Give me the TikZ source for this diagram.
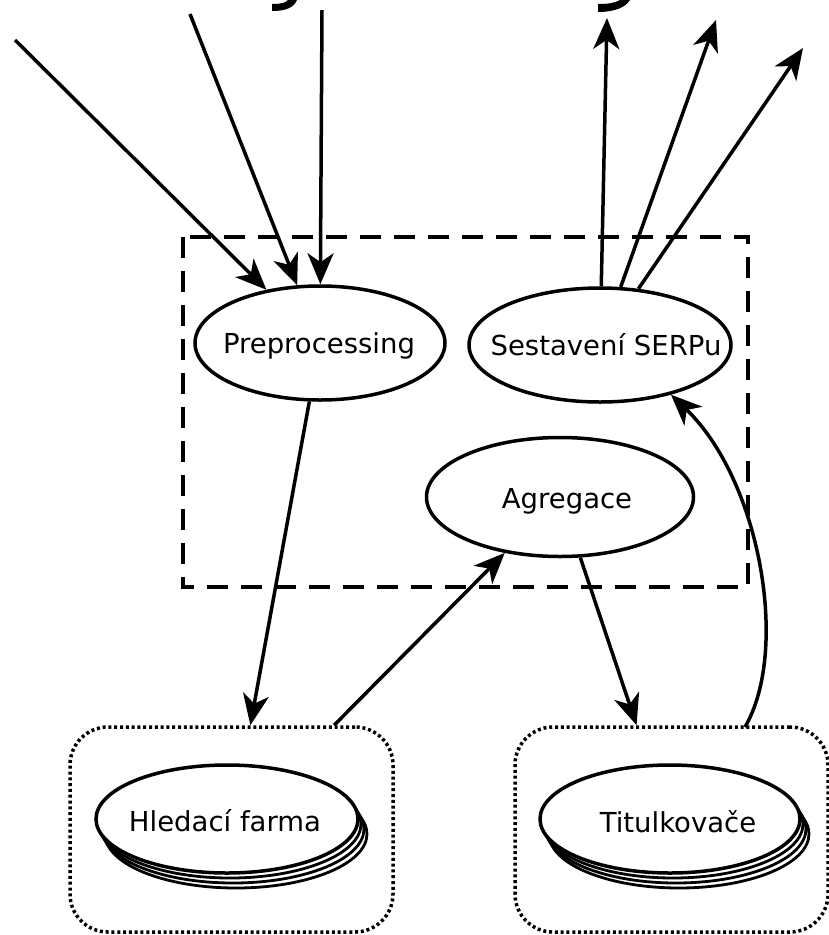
\documentclass[tikz,border=0pt]{standalone}
\usepackage{fontspec}
\setmainfont{DejaVu Sans}
\usetikzlibrary{shapes.geometric,arrows.meta}
\begin{document}
\begin{tikzpicture}[x=1pt,y=-1pt,
  every node/.style={font=\fontsize{27.5}{32}\selectfont},
  proc/.style={ellipse,draw,line width=3.5pt,inner sep=0pt,fill=white},
  backproc/.style={ellipse,draw,line width=2.8pt,inner sep=0pt,fill=white},
  lbl/.style={inner sep=0pt,anchor=base},
  arr/.style={-{Stealth[length=31pt,width=26pt,inset=9pt]},line width=3.5pt},
  group/.style={draw,line width=3.5pt,dash pattern=on 3pt off 2.8pt,rounded corners=38pt,inner sep=0pt},
  frame/.style={draw,line width=4pt,dash pattern=on 21pt off 13pt}
]
\useasboundingbox (0,0) rectangle (829,935);

% glyph tails of the heading above
\fill (297,0) -- (288,0) .. controls (285,3) and (281,4) .. (272,4) -- (272,11) .. controls (287,11) and (294,7) .. (297,0) -- cycle;
\fill (630,0) -- (620,0) .. controls (615,3) and (608,4) .. (598,4) -- (598,12) .. controls (615,12) and (626,7) .. (630,0) -- cycle;

% service frame
\draw[frame] (183,237) rectangle (748,587);

% components inside the frame
\node[proc,minimum width=250pt,minimum height=114pt] (pre) at (320,343) {};
\node[lbl] (preT) at (319,353) {Preprocessing};
\node[proc,minimum width=262pt,minimum height=114pt] (serp) at (600,345) {};
\node[lbl] (serpT) at (606,355) {Sestavení SERPu};
\node[proc,minimum width=267pt,minimum height=119pt] (agg) at (560,497) {};
\node[lbl] (aggT) at (567,508) {Agregace};

% server groups
\node[group,minimum width=323pt,minimum height=205pt] (farmbox) at (231.5,829.5) {};
\node[group,minimum width=313pt,minimum height=205pt] (titbox) at (671.5,829.5) {};

% stacked ellipses: search farm
\node[backproc,minimum width=262pt,minimum height=108pt] (farm3) at (236,834) {};
\node[backproc,minimum width=262pt,minimum height=108pt] (farm2) at (233,829) {};
\node[backproc,minimum width=262pt,minimum height=108pt] (farm1) at (230,824) {};
\node[proc,minimum width=262pt,minimum height=108pt] (farm) at (227,819) {};
\node[lbl] (farmT) at (225,831) {Hledací farma};

% stacked ellipses: snippet generators
\node[backproc,minimum width=260pt,minimum height=108pt] (tit3) at (679,834) {};
\node[backproc,minimum width=260pt,minimum height=108pt] (tit2) at (676,829) {};
\node[backproc,minimum width=260pt,minimum height=108pt] (tit1) at (673,824) {};
\node[proc,minimum width=260pt,minimum height=108pt] (tit) at (670,819) {};
\node[lbl] (titT) at (678,832) {Titulkovače};

% incoming queries
\coordinate (in1) at (15,40);
\coordinate (in2) at (190,14);
\coordinate (in3) at (322,10);
\draw[arr] (in1) -- (pre);
\draw[arr] (in2) -- (pre);
\draw[arr] (in3) -- (pre);

% outgoing results
\coordinate (out1) at (607,18);
\coordinate (out2) at (716,20);
\coordinate (out3) at (803,48);
\draw[arr] (serp) -- (out1);
\draw[arr] (serp) -- (out2);
\draw[arr] (serp) -- (out3);

% internal flow
\draw[arr] (pre) -- (farmbox);
\draw[arr] (farmbox) -- (agg);
\draw[arr] (agg) -- (titbox);
\coordinate (tstart) at (745,727);
\draw[arr] (tstart) .. controls (790,650) and (760,480) .. (serp.-35);
\end{tikzpicture}
\end{document}
